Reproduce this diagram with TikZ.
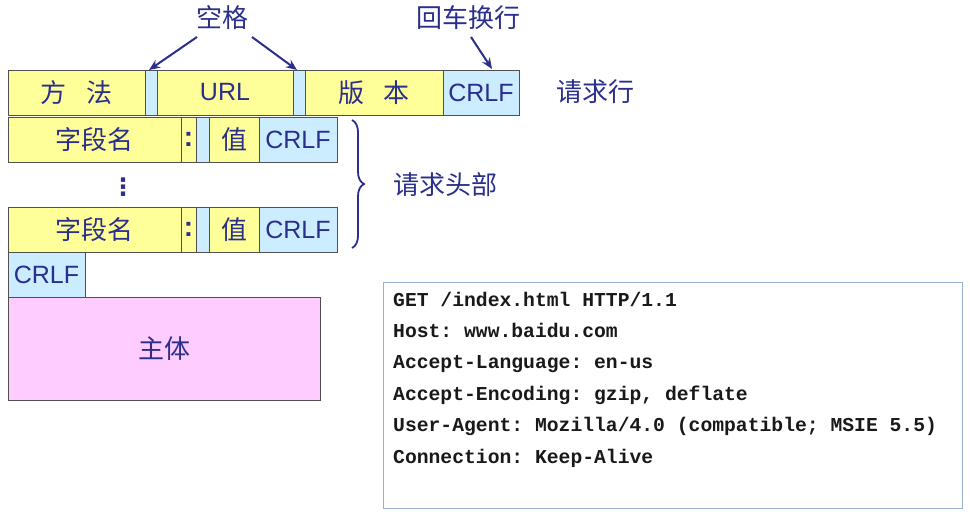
\documentclass[tikz,border=0pt]{standalone}
\usepackage{fontspec}
\setmainfont{Liberation Sans}
\newfontfamily\cjk{Noto Sans CJK SC}
\newfontfamily\codefont{Liberation Mono}
\newfontfamily\dejavu{DejaVu Sans}
\usetikzlibrary{decorations.pathreplacing,arrows.meta}
\definecolor{ink}{RGB}{43,47,140}
\definecolor{edge}{RGB}{80,80,80}
\definecolor{ylw}{RGB}{255,255,153}
\definecolor{lblue}{RGB}{204,236,255}
\definecolor{pnk}{RGB}{255,204,255}
\definecolor{codeedge}{RGB}{150,178,208}
\newcommand\cell[7]{\node[#1,minimum width={(#4-#3)*1pt},minimum height={(#6-#5)*1pt}] (#2) at (#3,#5) {#7};}
\begin{document}
\frenchspacing
\begin{tikzpicture}[x=1pt,y=-1pt,
  cellbox/.style={draw=edge,line width=0.8pt,inner sep=0pt,outer sep=0pt,anchor=north west,text=ink},
  yc/.style={cellbox,fill=ylw},
  bc/.style={cellbox,fill=lblue},
  pc/.style={cellbox,fill=pnk},
  zh/.style={font=\cjk\fontsize{26}{30}\selectfont},
  lat/.style={font=\fontsize{25}{29}\selectfont},
  colon/.style={font=\bfseries\fontsize{28}{30}\selectfont},
  lbl/.style={text=ink,inner sep=0pt},
  arr/.style={draw=ink,line width=2pt,-{Stealth[length=11pt,width=9pt]}},
  codeline/.style={anchor=base west,inner sep=0pt,font=\codefont\bfseries\fontsize{19.7}{22}\selectfont\frenchspacing,text=black!90}
]
\useasboundingbox (0,0) rectangle (970,514);
% request line
\cell{yc,zh}{meth}{8}{145}{70}{115}{方\hspace{20pt}法}
\cell{bc}{sp1}{145}{157}{70}{115}{}
\cell{yc,lat}{url}{157}{293}{70}{115}{URL}
\cell{bc}{sp2}{293}{305}{70}{115}{}
\cell{yc,zh}{ver}{305}{443}{70}{115}{版\hspace{20pt}本}
\cell{bc,lat}{crlf1}{443}{519}{70}{115}{CRLF}
\node[lbl,zh] (reqline) at (595,92) {请求行};
% header line 1
\cell{yc,zh}{fn1}{8}{181}{117}{162}{字段名}
\cell{yc,colon}{col1}{181}{196}{117}{162}{:}
\cell{bc}{sp3}{196}{209}{117}{162}{}
\cell{yc,zh}{val1}{209}{259}{117}{162}{值}
\cell{bc,lat}{crlf2}{259}{337}{117}{162}{CRLF}
% dots
\node[lbl,font=\dejavu\bfseries\fontsize{24}{28}\selectfont] (dots) at (123,187) {⋮};
% header line n
\cell{yc,zh}{fn2}{8}{181}{207}{252}{字段名}
\cell{yc,colon}{col2}{181}{196}{207}{252}{:}
\cell{bc}{sp4}{196}{209}{207}{252}{}
\cell{yc,zh}{val2}{209}{259}{207}{252}{值}
\cell{bc,lat}{crlf3}{259}{337}{207}{252}{CRLF}
% empty line and body
\cell{bc,lat}{crlf4}{8}{85}{252}{297}{CRLF}
\cell{pc,zh}{body}{8}{320}{297}{400}{主体}
% brace
\coordinate (bt) at (352,120);
\coordinate (bb) at (352,248);
\draw[ink,line width=1.8pt,decorate,decoration={brace,amplitude=12pt}] (bt) -- (bb);
\node[lbl,zh] (hdr) at (445,185) {请求头部};
% top labels and arrows
\node[lbl,zh] (space) at (222,18) {空格};
\node[lbl,zh] (crlflbl) at (468,18) {回车换行};
\coordinate (a1s) at (197,37);
\coordinate (a2s) at (252,37);
\coordinate (a3s) at (471,37);
\coordinate (a3e) at (492,69);
\draw[arr] (a1s) -- ([xshift=-2pt]sp1.north);
\draw[arr] (a2s) -- ([xshift=-2pt]sp2.north);
\draw[arr] (a3s) -- (a3e);
% code box
\node[draw=codeedge,line width=1pt,anchor=north west,minimum width=579pt,minimum height=226pt,inner sep=0pt] (codebox) at (383,282) {};
\node[codeline] (c1) at (393,306) {GET /index.html HTTP/1.1};
\node[codeline] (c2) at (393,337) {Host: www.baidu.com};
\node[codeline] (c3) at (393,368) {Accept-Language: en-us};
\node[codeline] (c4) at (393,400) {Accept-Encoding: gzip, deflate};
\node[codeline] (c5) at (393,431) {User-Agent: Mozilla/4.0 (compatible; MSIE 5.5)};
\node[codeline] (c6) at (393,463) {Connection: Keep-Alive};
\end{tikzpicture}
\end{document}
